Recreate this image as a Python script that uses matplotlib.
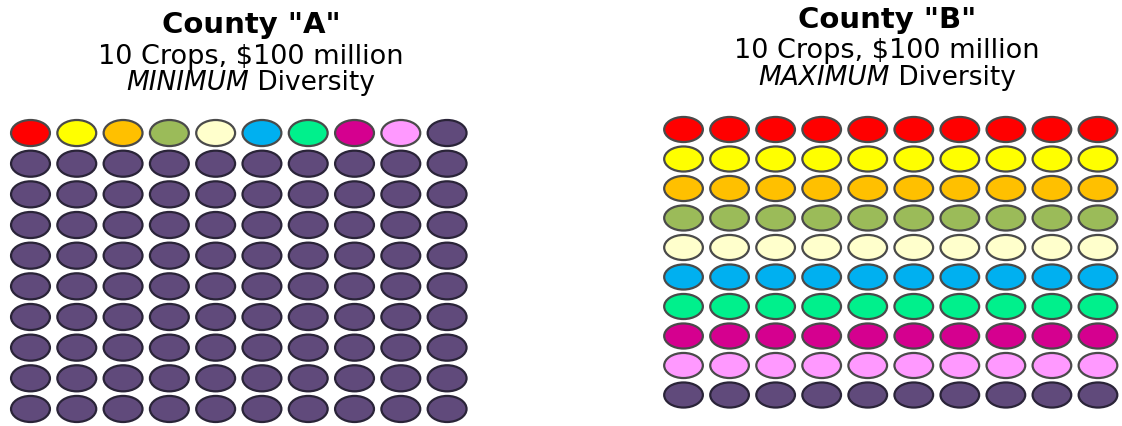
import matplotlib
matplotlib.use("Agg")
import matplotlib.pyplot as plt
from matplotlib.patches import Ellipse

# crop colours (one per crop), plus the "rest" colour
crop_colors = ["#FF0000", "#FFFF00", "#FFC000", "#9BBB59", "#FFFFCC",
               "#00B0F0", "#00F08C", "#D5008F", "#FF99FF", "#604A7B"]
n_rows = 10
n_cols = 10

# County A: first row has one cell of each crop, the rest is the last crop
grid_a = [crop_colors[:] ] + [[crop_colors[-1]] * n_cols for _ in range(n_rows - 1)]
# County B: each row is one crop
grid_b = [[c] * n_cols for c in crop_colors]

titles = ['County "A"', 'County "B"']
subtitles = ["10 Crops, $100 million", "10 Crops, $100 million"]
emph = ["MINIMUM", "MAXIMUM"]

W, H = 1122, 427
fig = plt.figure(figsize=(W / 100, H / 100), dpi=100)
fig.patch.set_facecolor("white")

FONT = "DejaVu Sans"


def draw_grid(rect, grid):
    ax = fig.add_axes(rect)
    ax.set_xlim(-0.5, n_cols - 0.5)
    ax.set_ylim(n_rows - 0.5, -0.5)
    ax.axis("off")
    for r, row in enumerate(grid):
        for c, col in enumerate(row):
            edge = "#2a2438" if col == crop_colors[-1] else "#4a4a4a"
            ax.add_patch(Ellipse((c, r), 0.84, 0.85, facecolor=col,
                                 edgecolor=edge, linewidth=1.6))
    return ax


def px(x, y):
    return x / W, 1 - y / H


# left grid: columns ~30..447 px, rows ~134..410 px
draw_grid([7.35 / W, (H - 425.3) / H, 462.9 / W, 306.6 / H], grid_a)
# right grid: columns ~683..1098 px, rows ~130..396 px
draw_grid([660.5 / W, (H - 410.75) / H, 460.5 / W, 295 / H], grid_b)

renderer = fig.canvas.get_renderer()


def header(cx, ys, i):
    fig.text(*px(cx, ys[0]), titles[i], ha="center", va="baseline",
             fontsize=21, fontweight="bold", family=FONT)
    fig.text(*px(cx, ys[1]), subtitles[i], ha="center", va="baseline",
             fontsize=19.5, family=FONT)
    t1 = fig.text(*px(cx, ys[2]), emph[i], ha="left", va="baseline",
                  fontsize=19, style="italic", family=FONT)
    t2 = fig.text(*px(cx, ys[2]), " Diversity", ha="left", va="baseline",
                  fontsize=19, family=FONT)
    w1 = t1.get_window_extent(renderer).width
    w2 = t2.get_window_extent(renderer).width
    x0 = cx - (w1 + w2) / 2
    t1.set_position(px(x0, ys[2]))
    t2.set_position(px(x0 + w1, ys[2]))


header(251, [33, 64, 90], 0)
header(887, [28, 58, 85], 1)

fig.savefig("out.png", dpi=100, facecolor="white")
